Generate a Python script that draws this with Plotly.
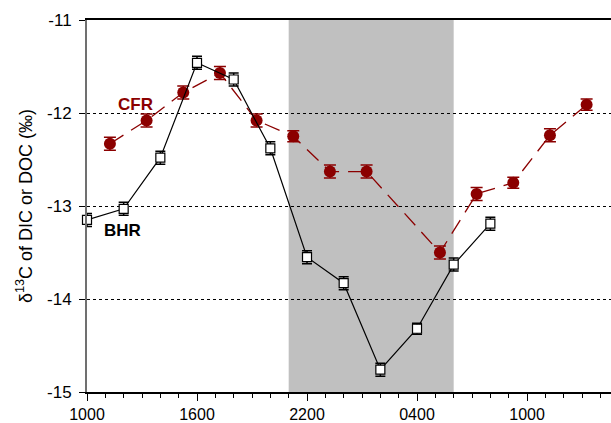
import plotly.graph_objects as go

# hours since 1000 on day 1
bhr_hours = [0, 2, 4, 6, 8, 10, 12, 14, 16, 18, 20, 22]
bhr_vals = [-13.15, -13.03, -12.48, -11.46, -11.64, -12.38, -13.55, -13.83, -14.76, -14.32, -13.63, -13.19]
bhr_err = [0.07, 0.07, 0.07, 0.07, 0.07, 0.07, 0.07, 0.07, 0.07, 0.06, 0.07, 0.07]

cfr_hours = [1.25, 3.25, 5.25, 7.25, 9.25, 11.25, 13.25, 15.25, 19.25, 21.25, 23.25, 25.25, 27.25]
cfr_vals = [-12.33, -12.08, -11.78, -11.57, -12.08, -12.25, -12.63, -12.63, -13.50, -12.87, -12.75, -12.24, -11.91]
cfr_err = [0.07, 0.07, 0.07, 0.07, 0.07, 0.06, 0.07, 0.07, 0.07, 0.07, 0.06, 0.07, 0.06]

tick_vals = [0, 6, 12, 18, 24]
tick_text = ["1000", "1600", "2200", "0400", "1000"]
y_tick_vals = [-15, -14, -13, -12, -11]
y_tick_text = ["-15", "-14", "-13", "-12", "-11"]
night_start, night_end = 11, 20

RED = "#8B0000"
FONT = "Liberation Sans, Arial, sans-serif"

fig = go.Figure()

fig.add_shape(type="rect", xref="x", yref="paper", x0=night_start, x1=night_end, y0=0, y1=1,
              fillcolor="#C0C0C0", line_width=0, layer="below")

fig.add_trace(go.Scatter(
    x=cfr_hours, y=cfr_vals, mode="lines+markers", cliponaxis=False,
    line=dict(color=RED, width=1.3, dash="16px,9px"),
    marker=dict(symbol="circle", size=12, color=RED),
    error_y=dict(type="data", array=cfr_err, color=RED, thickness=1.5, width=6),
    showlegend=False))

fig.add_trace(go.Scatter(
    x=bhr_hours, y=bhr_vals, mode="lines+markers", cliponaxis=False,
    line=dict(color="black", width=1.2),
    marker=dict(symbol="square", size=9, color="white", line=dict(color="black", width=1.2)),
    error_y=dict(type="data", array=bhr_err, color="black", thickness=1.5, width=5),
    showlegend=False))

fig.add_annotation(x=2.67, y=-11.91, xref="x", yref="y", text="<b>CFR</b>", showarrow=False,
                   font=dict(family=FONT, size=17, color=RED))
fig.add_annotation(x=1.96, y=-13.26, xref="x", yref="y", text="<b>BHR</b>", showarrow=False,
                   font=dict(family=FONT, size=17, color="black"))

fig.update_layout(
    width=611, height=423,
    margin=dict(l=87, r=0, t=20, b=31),
    plot_bgcolor="white", paper_bgcolor="white",
    font=dict(family=FONT, size=15, color="black"),
    xaxis=dict(range=[0, 28.58], tickvals=tick_vals, ticktext=tick_text,
               ticks="outside", ticklen=7, tickcolor="black", tickwidth=1,
               minor=dict(dtick=1, tick0=0, ticks="outside", ticklen=4, tickcolor="black", showgrid=False),
               showline=True, linecolor="black", linewidth=1.5, mirror=True,
               showgrid=False, zeroline=False, tickfont=dict(size=16)),
    yaxis=dict(range=[-15, -11], tickvals=y_tick_vals, ticktext=y_tick_text,
               ticks="outside", ticklen=6, tickcolor="black",
               showline=True, linecolor="#707070", linewidth=2,
               showgrid=True, gridcolor="black", griddash="dot", gridwidth=1,
               zeroline=False, tickfont=dict(size=17), ticklabelstandoff=4,
               title=dict(text="δ<sup>13</sup>C of DIC or DOC (‰)", font=dict(size=18), standoff=10)),
)

fig.write_html("out.html")
